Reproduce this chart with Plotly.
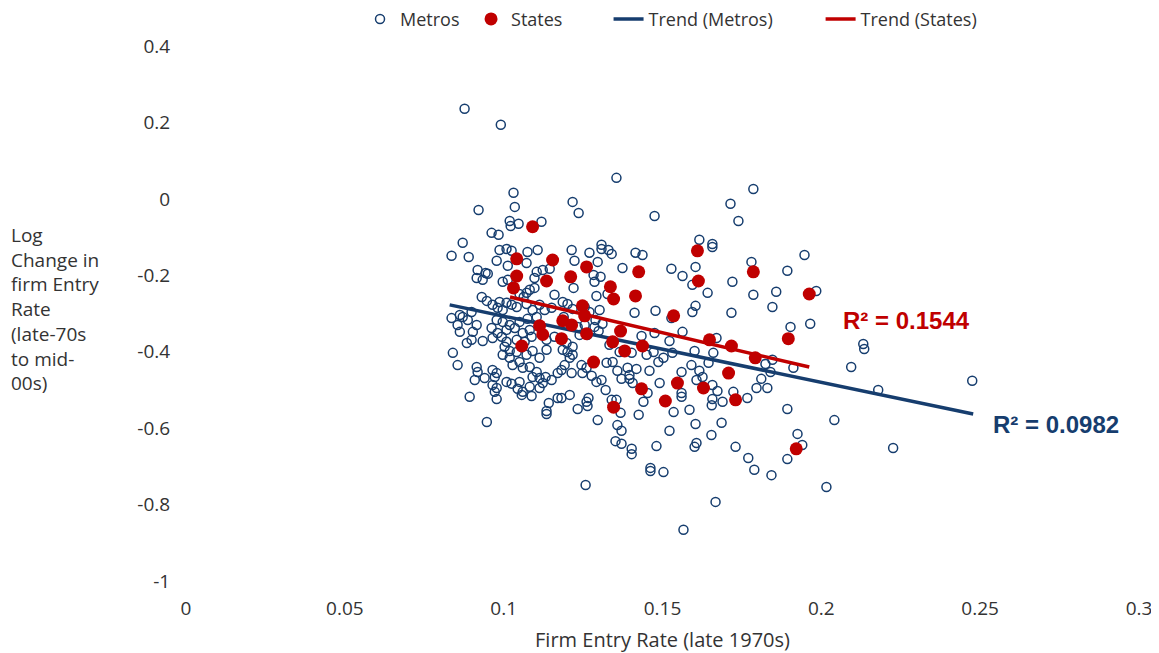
import plotly.graph_objects as go

# ---- Metros (open circles) ----
metro_x = [
    0.0877, 0.0991, 0.1031, 0.1035, 0.0921, 0.1019, 0.1047, 0.1022, 0.1119, 0.0962, 0.0984, 0.0871,
    0.1355, 0.1217, 0.1236, 0.1475, 0.1308,
    0.1786, 0.1714, 0.1739, 0.1616, 0.1657,
    0.1947, 0.1984, 0.1965, 0.2132, 0.2135, 0.2094, 0.2179, 0.2475,
    0.2041, 0.2226, 0.2016, 0.1925, 0.1940,
    0.1560, 0.1657, 0.1689, 0.1655, 0.1767, 0.1585, 0.1604, 0.1686, 0.1654, 0.1607, 0.1601, 0.1730,
    0.1770, 0.1789, 0.1843, 0.1893, 0.1893, 0.1667, 0.1566,
    0.1182, 0.1233, 0.1261, 0.1267, 0.1264, 0.1340, 0.1355, 0.1368, 0.1296, 0.1358, 0.1371, 0.1352,
    0.1371, 0.1403, 0.1403, 0.1425, 0.1440, 0.1535, 0.1522, 0.1481, 0.1462, 0.1462, 0.1503, 0.1258,
    0.0893, 0.0978, 0.1057, 0.1088, 0.1142, 0.1135, 0.1135, 0.1170, 0.0947,
    0.1657, 0.1604, 0.1780, 0.1893, 0.1563, 0.1594, 0.1642, 0.1720, 0.1786, 0.1858, 0.1846, 0.1717,
    0.1604, 0.1594, 0.1903, 0.1563, 0.1670, 0.1601, 0.1660, 0.1645, 0.1591, 0.1824, 0.1846, 0.1912,
    0.1840, 0.1616, 0.1626, 0.1560, 0.1811, 0.1607, 0.1657, 0.1796, 0.1830, 0.1673, 0.1723, 0.1560,
    0.1214, 0.1270, 0.1308, 0.1330, 0.1340, 0.1415, 0.1437, 0.1223, 0.1296, 0.1374, 0.1528, 0.1283,
    0.1286, 0.1305, 0.1220, 0.1327, 0.1292, 0.1186, 0.1201, 0.1217, 0.1255, 0.1270, 0.1302, 0.1412,
    0.1478, 0.1528, 0.1189, 0.1289, 0.1311, 0.1286, 0.1233, 0.1255, 0.1239, 0.1264, 0.1299, 0.1434,
    0.1475, 0.1522, 0.1198, 0.1217, 0.1186, 0.1201, 0.1333, 0.1365, 0.1403, 0.1450, 0.1472, 0.1487,
    0.1503, 0.1531, 0.1208, 0.1217, 0.1192, 0.1182, 0.1324, 0.1343, 0.1245, 0.1261, 0.1418, 0.1459,
    0.1358, 0.1390, 0.1214, 0.1248, 0.1277, 0.1396, 0.1396, 0.1406, 0.1371, 0.1292, 0.1308, 0.1491,
    0.1321, 0.1453, 0.1208,
    0.0836, 0.0890, 0.0987, 0.1009, 0.1025, 0.1075, 0.1107, 0.0978, 0.1013, 0.1072, 0.0918, 0.0943,
    0.0915, 0.0934, 0.0950, 0.0997, 0.1013, 0.1104, 0.1123, 0.1145, 0.1097, 0.1082, 0.1097, 0.1072,
    0.1050, 0.1063, 0.1160, 0.0931, 0.0947, 0.0987, 0.1009, 0.1025, 0.0965, 0.0981, 0.0997, 0.1041,
    0.1072, 0.1091, 0.1113, 0.1129, 0.1151, 0.0899, 0.0887, 0.0871, 0.0862, 0.0836, 0.0855, 0.0915,
    0.0903, 0.0978, 0.0997, 0.1019, 0.1050, 0.1075, 0.1104, 0.0962, 0.0981, 0.1009, 0.1035, 0.1060,
    0.1082, 0.0862, 0.0899, 0.0884, 0.0934, 0.0965, 0.0994, 0.1009, 0.1041, 0.1066, 0.1088, 0.1135,
    0.1160, 0.1003, 0.1019, 0.0997, 0.1041, 0.1072, 0.1091, 0.1113, 0.1135, 0.0840, 0.0855, 0.0915,
    0.0918, 0.0965, 0.0978, 0.0972, 0.1019, 0.1028, 0.1050, 0.1060, 0.1082, 0.1104, 0.1091, 0.1113,
    0.1132, 0.1151, 0.1170, 0.0909, 0.0940, 0.0965, 0.0978, 0.0972, 0.1009, 0.1025, 0.1050, 0.1044,
    0.1060, 0.1082, 0.1113, 0.1123,
]
metro_y = [
    0.236, 0.194, 0.016, -0.021, -0.029, -0.058, -0.065, -0.071, -0.060, -0.089, -0.094, -0.115,
    0.055, -0.008, -0.037, -0.045, -0.120,
    0.026, -0.013, -0.058, -0.107, -0.118,
    -0.147, -0.241, -0.327, -0.380, -0.393, -0.440, -0.500, -0.476,
    -0.579, -0.652, -0.754, -0.615, -0.644,
    -0.518, -0.524, -0.531, -0.540, -0.521, -0.552, -0.589, -0.586, -0.618, -0.639, -0.649, -0.649,
    -0.678, -0.709, -0.723, -0.550, -0.681, -0.793, -0.866,
    -0.521, -0.550, -0.531, -0.521, -0.542, -0.526, -0.526, -0.560, -0.579, -0.592, -0.607, -0.634,
    -0.641, -0.654, -0.668, -0.565, -0.531, -0.558, -0.607, -0.647, -0.704, -0.712, -0.715, -0.749,
    -0.518, -0.524, -0.513, -0.516, -0.534, -0.555, -0.563, -0.521, -0.584,
    -0.126, -0.178, -0.165, -0.188, -0.202, -0.225, -0.246, -0.217, -0.251, -0.243, -0.283, -0.298,
    -0.280, -0.296, -0.335, -0.348, -0.364, -0.398, -0.403, -0.429, -0.435, -0.432, -0.421, -0.442,
    -0.453, -0.450, -0.466, -0.453, -0.471, -0.474, -0.487, -0.495, -0.495, -0.503, -0.505, -0.508,
    -0.134, -0.141, -0.131, -0.134, -0.144, -0.141, -0.147, -0.162, -0.165, -0.181, -0.183, -0.199,
    -0.217, -0.204, -0.233, -0.249, -0.254, -0.270, -0.275, -0.288, -0.283, -0.296, -0.291, -0.298,
    -0.293, -0.312, -0.309, -0.317, -0.327, -0.335, -0.335, -0.330, -0.356, -0.356, -0.346, -0.359,
    -0.351, -0.372, -0.377, -0.387, -0.395, -0.401, -0.382, -0.401, -0.403, -0.408, -0.401, -0.427,
    -0.416, -0.403, -0.416, -0.408, -0.435, -0.448, -0.429, -0.427, -0.435, -0.442, -0.445, -0.450,
    -0.450, -0.442, -0.456, -0.456, -0.463, -0.461, -0.471, -0.482, -0.471, -0.479, -0.474, -0.482,
    -0.500, -0.508, -0.513,
    -0.149, -0.152, -0.134, -0.131, -0.136, -0.139, -0.134, -0.162, -0.175, -0.168, -0.186, -0.194,
    -0.207, -0.212, -0.196, -0.217, -0.212, -0.191, -0.186, -0.183, -0.207, -0.238, -0.233, -0.246,
    -0.249, -0.257, -0.251, -0.257, -0.267, -0.270, -0.272, -0.277, -0.277, -0.285, -0.291, -0.283,
    -0.275, -0.291, -0.277, -0.291, -0.285, -0.296, -0.317, -0.309, -0.304, -0.312, -0.330, -0.330,
    -0.348, -0.317, -0.322, -0.330, -0.322, -0.314, -0.309, -0.338, -0.351, -0.343, -0.338, -0.351,
    -0.343, -0.348, -0.369, -0.377, -0.372, -0.364, -0.361, -0.374, -0.369, -0.374, -0.361, -0.369,
    -0.361, -0.387, -0.398, -0.408, -0.401, -0.408, -0.398, -0.416, -0.395, -0.403, -0.435, -0.440,
    -0.453, -0.448, -0.456, -0.466, -0.416, -0.435, -0.427, -0.442, -0.440, -0.453, -0.466, -0.469,
    -0.466, -0.474, -0.456, -0.474, -0.469, -0.487, -0.495, -0.505, -0.479, -0.484, -0.479, -0.497,
    -0.505, -0.492, -0.495, -0.482,
]

# ---- States (filled red dots) ----
state_x = [
    0.1091, 0.1041, 0.1154, 0.1135, 0.1041, 0.1031, 0.1057, 0.1113, 0.1123, 0.1182, 0.1186, 0.1211,
    0.1214, 0.1248, 0.1255, 0.1261, 0.1261, 0.1283, 0.1336, 0.1346, 0.1343, 0.1368, 0.1381, 0.1415,
    0.1425, 0.1434, 0.1437, 0.1346, 0.1509, 0.1535, 0.1547, 0.1610, 0.1613, 0.1629, 0.1648, 0.1708,
    0.1717, 0.1730, 0.1786, 0.1792, 0.1896, 0.1921, 0.1962,
]
state_y = [
    -0.073, -0.157, -0.160, -0.215, -0.202, -0.233, -0.385, -0.332, -0.355, -0.366, -0.319, -0.204,
    -0.330, -0.280, -0.306, -0.178, -0.353, -0.427, -0.230, -0.262, -0.374, -0.346, -0.398, -0.254,
    -0.191, -0.497, -0.385, -0.545, -0.529, -0.306, -0.482, -0.136, -0.215, -0.495, -0.369, -0.456,
    -0.385, -0.526, -0.191, -0.416, -0.366, -0.654, -0.249,
]

# ---- Trend lines (endpoints) ----
trend_metro_x = [0.0830, 0.2478]
trend_metro_y = [-0.2775, -0.5628]
trend_state_x = [0.1020, 0.1962]
trend_state_y = [-0.257, -0.440]

r2_metros = "R² = 0.0982"
r2_states = "R² = 0.1544"

x_ticks = [0, 0.05, 0.1, 0.15, 0.2, 0.25, 0.3]
x_tick_text = ["0", "0.05", "0.1", "0.15", "0.2", "0.25", "0.3"]
y_ticks = [0.4, 0.2, 0, -0.2, -0.4, -0.6, -0.8, -1]
y_tick_text = ["0.4", "0.2", "0", "-0.2", "-0.4", "-0.6", "-0.8", "-1"]

NAVY = "#163D6E"
RED = "#C00000"
FONT = "Open Sans"
TXT = "#333333"

fig = go.Figure()
fig.add_trace(go.Scatter(
    x=metro_x, y=metro_y, mode="markers", name="Metros", legend="legend",
    marker=dict(symbol="circle-open", size=9, color=NAVY, line=dict(width=1.5, color=NAVY)),
))
fig.add_trace(go.Scatter(
    x=trend_metro_x, y=trend_metro_y, mode="lines", name="Trend (Metros)", legend="legend3",
    line=dict(color=NAVY, width=3.5),
))
fig.add_trace(go.Scatter(
    x=state_x, y=state_y, mode="markers", name="States", legend="legend2",
    marker=dict(symbol="circle", size=13, color=RED, line=dict(width=0)),
))
fig.add_trace(go.Scatter(
    x=trend_state_x, y=trend_state_y, mode="lines", name="Trend (States)", legend="legend4",
    line=dict(color=RED, width=3.5),
))

fig.add_annotation(x=0.2267, y=-0.319, xref="x", yref="y", text=r2_states, showarrow=False,
                   font=dict(family="Arial", size=24, color=RED, weight="bold"),
                   xanchor="center", yanchor="middle")
fig.add_annotation(x=0.2739, y=-0.5916, xref="x", yref="y", text=r2_metros, showarrow=False,
                   font=dict(family="Arial", size=24, color=NAVY, weight="bold"),
                   xanchor="center", yanchor="middle")

fig.add_annotation(
    x=-0.186, y=0.509, xref="paper", yref="paper", xanchor="left", yanchor="middle",
    align="left", showarrow=False,
    text="Log<br>Change in<br>firm Entry<br>Rate<br>(late-70s<br>to mid-<br>00s)",
    font=dict(family=FONT, size=19, color=TXT),
)

leg_common = dict(orientation="h", yanchor="middle", y=1.05, xanchor="left",
                  font=dict(family=FONT, size=18, color=TXT), bgcolor="rgba(0,0,0,0)",
                  borderwidth=0)
# The page body adds an 8px offset; the figure is sized so that the plot area lands
# at x 186..1139, y 46..581 of the 1159x653 window.
fig.update_layout(
    width=1151, height=645,
    margin=dict(l=178, r=20, t=38, b=72, autoexpand=False),
    plot_bgcolor="white", paper_bgcolor="white",
    font=dict(family=FONT, color=TXT),
    xaxis=dict(range=[0, 0.3], tickvals=x_ticks, ticktext=x_tick_text, showgrid=False,
               zeroline=False, showline=False, ticks="outside", ticklen=10,
               tickcolor="rgba(0,0,0,0)", tickfont=dict(family=FONT, size=19, color=TXT),
               automargin=False,
               title=dict(text="Firm Entry Rate (late 1970s)", font=dict(family=FONT, size=20, color=TXT),
                          standoff=15)),
    yaxis=dict(range=[-1, 0.4], tickvals=y_ticks, ticktext=y_tick_text, showgrid=False,
               zeroline=False, showline=False, ticks="outside", ticklen=11, automargin=False,
               tickcolor="rgba(0,0,0,0)", tickfont=dict(family=FONT, size=19, color=TXT)),
    legend=dict(x=0.1826, **leg_common),
    legend2=dict(x=0.2991, **leg_common),
    legend3=dict(x=0.4434, **leg_common),
    legend4=dict(x=0.6659, **leg_common),
    showlegend=True,
)

fig.write_html("out.html")
